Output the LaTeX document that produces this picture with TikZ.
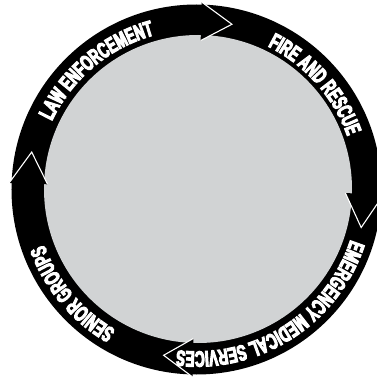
\documentclass[tikz,border=0pt]{standalone}
\usepackage{fontspec}
\newfontfamily\ringfont[Scale=2.2,FakeStretch=0.61,FakeBold=5]{Liberation Sans}
\usetikzlibrary{decorations.text}
\definecolor{discgray}{RGB}{209,211,212}
\tikzset{
  headedge/.style={draw=white, line width=1.1pt, line join=miter},
  ringtext/.style={decorate, decoration={text effects along path, text={#1}, text align=center,
     text effects/.cd, text along path, characters={text=white, font=\ringfont\bfseries}}}
}
\begin{document}
\begin{tikzpicture}[x=1pt,y=1pt]
\useasboundingbox (-196.5,-188.5) rectangle (179.5,189.5);
\fill[black] (0,0) circle[radius=185pt];
\fill[discgray] (1.5,0.5) circle[radius=154pt];
\foreach \b/\t/\n in {88.4/77.9/a, -1.4/-13/b, 268.8/258.8/c, 178/167.2/d} {
  \coordinate (\n o) at (\b:187.5pt);
  \coordinate (\n i) at (\b:149pt);
  \coordinate (\n t) at (\t:169pt);
  \fill[black] (\n o) -- (\n t) -- (\n i) -- cycle;
  \draw[headedge] (\n o) -- (\n t) -- (\n i);
}
\path[ringtext={LAW ENFORCEMENT}] (175:160pt) arc[start angle=175, end angle=85, radius=160pt];
\path[ringtext={FIRE AND RESCUE}] (86.5:160pt) arc[start angle=86.5, end angle=-3.5, radius=160pt];
\path[ringtext={EMERGENCY MEDICAL SERVICES}] (-7.5:162pt) arc[start angle=-7.5, end angle=-107.5, radius=162pt];
\path[ringtext={SENIOR GROUPS}] (265:162pt) arc[start angle=265, end angle=175, radius=162pt];
\end{tikzpicture}
\end{document}
